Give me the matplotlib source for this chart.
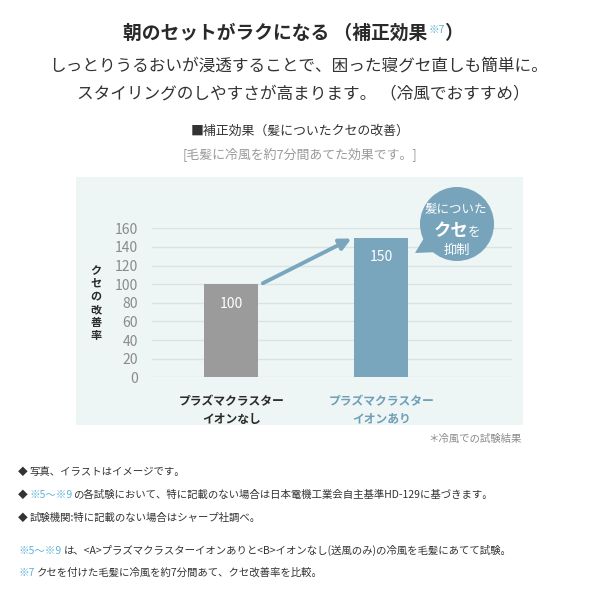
import matplotlib
matplotlib.use('Agg')
import matplotlib.pyplot as plt
from matplotlib.patches import Rectangle, Circle, Polygon

plt.rcParams['font.family'] = ['Noto Sans CJK JP', 'DejaVu Sans']

# ---- data ----
categories = ["プラズマクラスター\nイオンなし", "プラズマクラスター\nイオンあり"]
values = [100, 150]
yticks = [0, 20, 40, 60, 80, 100, 120, 140, 160]
ylabel = "クセの改善率"

title_main = "朝のセットがラクになる （補正効果"
title_note = "※7"
title_end = "）"
line2 = "しっとりうるおいが浸透することで、困った寝グセ直しも簡単に。"
line3 = "スタイリングのしやすさが高まります。 （冷風でおすすめ）"
heading = "■補正効果（髪についたクセの改善）"
subheading = "[毛髪に冷風を約7分間あてた効果です。]"
chart_note = "＊冷風での試験結果"
bubble_lines = ["髪についた", "クセ", "を", "抑制"]

# ---- colours ----
GRAY_BAR = "#9b9b9b"
BLUE_BAR = "#79a6bd"
BLUE_TXT = "#5fb2d9"
PANEL = "#eef5f5"
DARK = "#2a2a2a"

fig = plt.figure(figsize=(6, 6), dpi=100)
fig.patch.set_facecolor("white")

def overlay(label, z):
    a = fig.add_axes([0, 0, 1, 1], label=label, zorder=z)
    a.set_xlim(0, 600)
    a.set_ylim(600, 0)
    a.axis('off')
    a.patch.set_alpha(0)
    return a

bg = overlay('bg', 0)
front = overlay('front', 3)

renderer = fig.canvas.get_renderer()

def rich(ax, x, y, pieces, align='center'):
    texts, widths, gaps = [], [], []
    for s, kw, dy, gap in pieces:
        t = ax.text(0, y + dy, s, va='baseline', ha='left', **kw)
        texts.append(t)
        widths.append(t.get_window_extent(renderer).width)
        gaps.append(gap)
    total = sum(widths) + sum(gaps[:-1])
    cur = x - total / 2 if align == 'center' else x
    for t, w, g in zip(texts, widths, gaps):
        t.set_x(cur)
        cur += w + g

# ---- header texts ----
rich(bg, 293, 39, [
    (title_main, dict(fontsize=13.5, fontweight='bold', color=DARK), 0, 1),
    (title_note, dict(fontsize=7.5, color=BLUE_TXT), -6, -1),
    (title_end, dict(fontsize=13.5, fontweight='bold', color=DARK), 0, 0),
])
bg.text(298, 66, line2, fontsize=12, color="#333333", ha='center', va='center')
bg.text(303, 95, line3, fontsize=12, color="#333333", ha='center', va='center')
bg.text(300, 131, heading, fontsize=9.3, color="#333333", ha='center', va='center')
bg.text(300, 155, subheading, fontsize=9.3, color="#9a9a9a", ha='center', va='center')

# ---- panel ----
bg.add_patch(Rectangle((76, 177), 447, 248, facecolor=PANEL, edgecolor='none'))
bg.text(522, 439, chart_note, fontsize=7.5, color="#8a8a8a", ha='right', va='center')

# ---- chart axes ----
ax = fig.add_axes([151.7 / 600, 1 - 377.3 / 600, 360 / 600, 149 / 600], zorder=1)
ax.patch.set_alpha(0)
x = list(range(len(values)))
ax.set_xlim(-0.531, 1.869)
ax.set_ylim(0, 160)
ax.set_yticks(yticks)
ax.set_yticklabels([str(v) for v in yticks], fontsize=10, color="#8a8a8a")
ax.tick_params(axis='y', length=0, pad=10)
ax.set_xticks([])
for s in ax.spines.values():
    s.set_visible(False)
ax.grid(axis='y', color="#d9e3e3", linewidth=1)
ax.set_axisbelow(True)
bars = ax.bar(x, values, width=0.36, color=[GRAY_BAR, BLUE_BAR], zorder=2)
for xi, v in zip(x, values):
    ax.annotate(str(v), (xi, v), xytext=(0, -14), textcoords='offset points',
                ha='center', va='center', color='white', fontsize=10, zorder=3)

label_colors = [DARK, "#6e9fb7"]
for xi, lab, c in zip(x, categories, label_colors):
    ax.text(xi, -0.12, lab, transform=ax.get_xaxis_transform(), ha='center', va='top',
            fontsize=8.5, fontweight='bold', color=c, linespacing=1.45)

ax.text(-0.155, 0.5, "\n".join(ylabel), transform=ax.transAxes, ha='center', va='center',
        fontsize=8, fontweight='bold', color=DARK, linespacing=1.0)

# arrow between bar tops
ax.annotate('', xy=(x[1] - 0.18 - 0.02, values[1] - 1), xytext=(x[0] + 0.18 + 0.03, values[0] + 1),
            arrowprops=dict(arrowstyle='-|>', color=BLUE_BAR, lw=2.8, mutation_scale=17,
                            shrinkA=0, shrinkB=0), zorder=3)

# ---- speech bubble ----
front.add_patch(Circle((457, 224), 37, facecolor="#77a4bb", edgecolor='none'))
front.add_patch(Polygon([(424, 238), (415, 253), (438, 252)], closed=True,
                        facecolor="#77a4bb", edgecolor='none'))
front.text(456, 210, bubble_lines[0], fontsize=9, color='white', ha='center', va='center')
rich(front, 457, 236, [
    (bubble_lines[1], dict(fontsize=12.5, fontweight='bold', color='white'), 0, -1),
    (bubble_lines[2], dict(fontsize=9, color='white'), 0, 0),
])
front.text(457, 250, bubble_lines[3], fontsize=9.5, color='white', ha='center', va='center')

# ---- footnotes ----
FN = dict(fontsize=7.5, color="#333333")
FB = dict(fontsize=7.5, color=BLUE_TXT)
FD = dict(fontsize=7, color="#333333")
fx = 18
rich(bg, fx, 475, [("◆", FD, 0, 2), ("写真、イラストはイメージです。", FN, 0, 0)], align='left')
rich(bg, fx, 498, [("◆", FD, 0, 2), ("※5〜※9", FB, 0, 0),
                   ("の各試験において、特に記載のない場合は日本電機工業会自主基準HD-129に基づきます。", FN, 0, 0)],
     align='left')
rich(bg, fx, 521, [("◆", FD, 0, 2), ("試験機関:特に記載のない場合はシャープ社調べ。", FN, 0, 0)], align='left')
rich(bg, fx, 554, [("※5〜※9", FB, 0, 3),
                   ("は、<A>プラズマクラスターイオンありと<B>イオンなし(送風のみ)の冷風を毛髪にあてて試験。", FN, 0, 0)],
     align='left')
rich(bg, fx, 576, [("※7", FB, 0, 3), ("クセを付けた毛髪に冷風を約7分間あて、クセ改善率を比較。", FN, 0, 0)],
     align='left')

fig.savefig("out.png", dpi=100, facecolor='white')
